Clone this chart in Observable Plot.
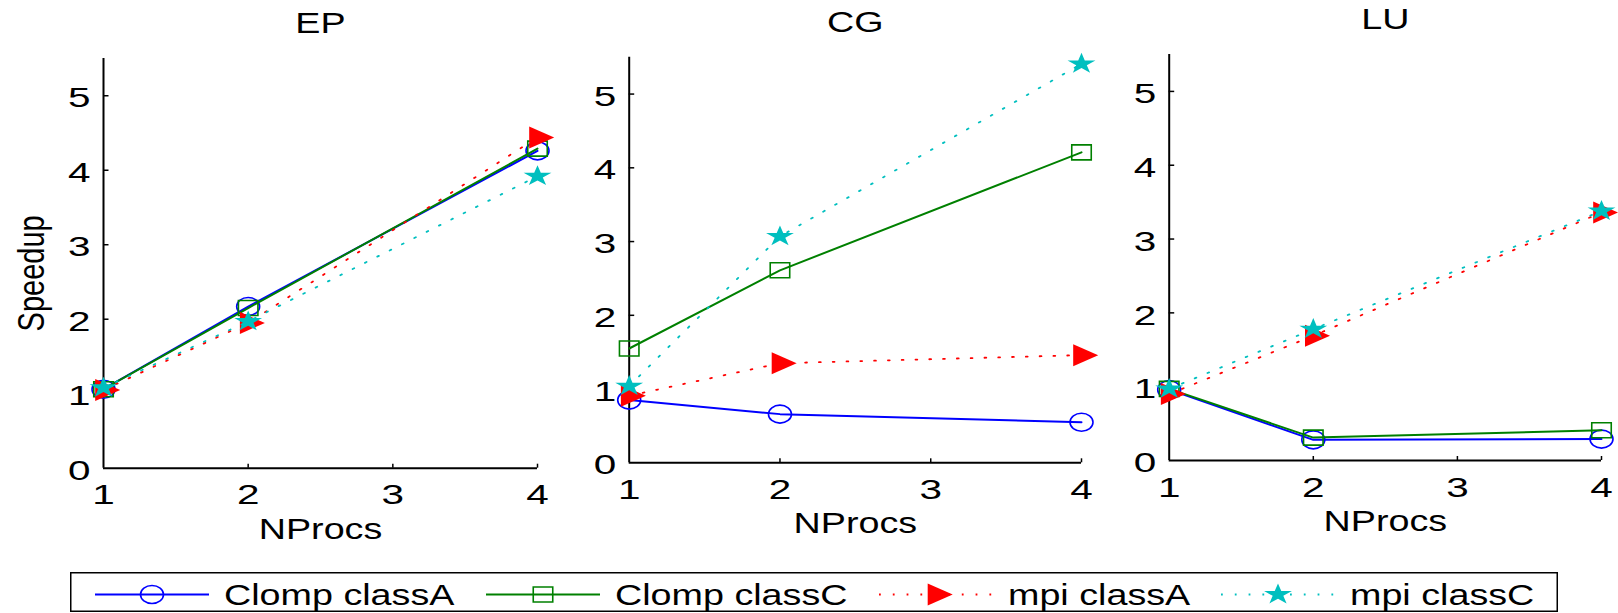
<!DOCTYPE html>
<html><head><meta charset="utf-8">
<script src="https://cdn.jsdelivr.net/npm/d3@7"></script>
<script src="https://cdn.jsdelivr.net/npm/@observablehq/plot@0.6"></script>
<style>
html,body{margin:0;padding:0;background:#fff;}
#fig{position:relative;width:1618px;height:613px;overflow:hidden;font-family:"Liberation Sans",Arial,Helvetica,sans-serif;background:#fff;}
.panel{position:absolute;top:0;}
</style></head><body><div id="fig"></div>
<script>
// ---- data ----
const nprocs = [1, 2, 4];
const xTicks = [1, 2, 3, 4];
const yTicks = [0, 1, 2, 3, 4, 5];
const panelTitles = ["EP", "CG", "LU"];
const xLabel = "NProcs";
const yLabel = "Speedup";
const seriesNames = ["Clomp classA", "Clomp classC", "mpi classA", "mpi classC"];
const seriesColors = ["#0000ff", "#008000", "#ff0000", "#00bfbf"];

const epClompA = [1.06, 2.17, 4.26];
const epClompC = [1.06, 2.15, 4.29];
const epMpiA   = [1.05, 1.95, 4.44];
const epMpiC   = [1.08, 1.97, 3.92];

const cgClompA = [0.85, 0.66, 0.55];
const cgClompC = [1.55, 2.61, 4.21];
const cgMpiA   = [0.91, 1.35, 1.46];
const cgMpiC   = [1.04, 3.07, 5.41];

const luClompA = [0.96, 0.28, 0.29];
const luClompC = [0.97, 0.31, 0.41];
const luMpiA   = [0.90, 1.69, 3.36];
const luMpiC   = [0.97, 1.78, 3.38];

const panelSeries = {
  EP: [epClompA, epClompC, epMpiA, epMpiC],
  CG: [cgClompA, cgClompC, cgMpiA, cgMpiC],
  LU: [luClompA, luClompC, luMpiA, luMpiC]
};

// ---- marker symbols (figure is horizontally stretched, like the original) ----
const ellipseSym = {draw(c) {
  const rx = 11.5, ry = 9, k = 0.5523, kx = rx * k, ky = ry * k;
  c.moveTo(rx, 0);
  c.bezierCurveTo(rx, ky, kx, ry, 0, ry);
  c.bezierCurveTo(-kx, ry, -rx, ky, -rx, 0);
  c.bezierCurveTo(-rx, -ky, -kx, -ry, 0, -ry);
  c.bezierCurveTo(kx, -ry, rx, -ky, rx, 0);
  c.closePath();
}};
const squareSym = {draw(c) { c.rect(-9.75, -7.5, 19.5, 15); }};
const triSym = {draw(c) { c.moveTo(-8.3, -11); c.lineTo(16.7, 0); c.lineTo(-8.3, 11); c.closePath(); }};
const starSym = {draw(c) {
  const R = 11, r = R * 0.382, sx = 1.33;
  for (let i = 0; i < 10; i++) {
    const a = -Math.PI / 2 + i * Math.PI / 5, rr = i % 2 ? r : R;
    const px = sx * rr * Math.cos(a), py = rr * Math.sin(a);
    i ? c.lineTo(px, py) : c.moveTo(px, py);
  }
  c.closePath();
}};
const seriesStyle = [
  {symbol: ellipseSym, fill: "none", solid: true},
  {symbol: squareSym, fill: "none", solid: true},
  {symbol: triSym, fill: "#ff0000", solid: false},
  {symbol: starSym, fill: "#00bfbf", solid: false}
];
const DOTS = "1.8,12";

// ---- layout of the three axes (pixels) ----
const geom = {
  EP: {left: 0, width: 560, mL: 103, mR: 23, mT: 58, mB: 145.3},
  CG: {left: 560, width: 540, mL: 68.7, mR: 19, mT: 56.7, mB: 150.7},
  LU: {left: 1100, width: 518, mL: 68.7, mR: 17, mT: 54, mB: 153}
};
const H = 613;
const FONT = "Liberation Sans, Arial, Helvetica, sans-serif";

function stretchTexts(svg) {
  svg.querySelectorAll("text").forEach(t => {
    const g = t.closest("[aria-label]");
    const lab = g ? g.getAttribute("aria-label") : "";
    const f = /tick label/.test(lab) ? 1.5 : 1.3;
    let tr = t.getAttribute("transform") || "";
    const x = t.getAttribute("x");
    if (x != null && !isNaN(+x)) { tr += ` translate(${+x},0)`; t.removeAttribute("x"); }
    if (tr.includes("rotate(")) tr = tr.replace("rotate(", `scale(${f},1) rotate(`);
    else tr += ` scale(${f},1)`;
    t.setAttribute("transform", tr.trim());
  });
}

const fig = document.getElementById("fig");
const intFmt = d => String(d);
panelTitles.forEach(title => {
  const g = geom[title];
  const fw = g.width - g.mL - g.mR, fh = H - g.mT - g.mB;
  const marks = [
    Plot.ruleY([0], {stroke: "#000", strokeWidth: 2}),
    Plot.ruleX([1], {stroke: "#000", strokeWidth: 2}),
    Plot.tickY(yTicks.filter(t => t > 0), {y: d => d, stroke: "#000", strokeWidth: 1.5, insetRight: fw - 5.5}),
    Plot.tickX(xTicks.filter(t => t > 1), {x: d => d, stroke: "#000", strokeWidth: 1.5, insetTop: fh - 4}),
    Plot.axisX({ticks: xTicks, tickFormat: intFmt, tickSize: 0, tickPadding: 17, fontSize: 27, label: null}),
    Plot.axisY({ticks: yTicks, tickFormat: intFmt, tickSize: 0, tickPadding: 13, fontSize: 27, label: null, dy: 3})
  ];
  panelSeries[title].forEach((vals, s) => {
    const rows = nprocs.map((n, i) => ({n, v: vals[i]}));
    const st = seriesStyle[s];
    marks.push(Plot.line(rows, {x: "n", y: "v", stroke: seriesColors[s], strokeWidth: st.solid ? 2 : 1.8,
      strokeDasharray: st.solid ? null : DOTS}));
    marks.push(Plot.dot(rows, {x: "n", y: "v", symbol: st.symbol,
      stroke: st.fill === "none" ? seriesColors[s] : "none", strokeWidth: 1.6,
      fill: st.fill}));
  });
  marks.push(Plot.text([title], {text: d => d, frameAnchor: "top", textAnchor: "middle", dy: -46, lineAnchor: "top", fontSize: 29}));
  marks.push(Plot.text([xLabel], {text: d => d, frameAnchor: "bottom", textAnchor: "middle", dy: 50, lineAnchor: "top", fontSize: 29}));
  if (title === "EP") marks.push(Plot.text([yLabel], {text: d => d, frameAnchor: "left", textAnchor: "middle", lineAnchor: "middle", rotate: -90, dx: -72, dy: 10, fontSize: 29}));

  const svg = Plot.plot({
    width: g.width, height: H,
    marginLeft: g.mL, marginRight: g.mR, marginTop: g.mT, marginBottom: g.mB,
    x: {type: "linear", domain: [1, 4]},
    y: {type: "linear", domain: [0, 5.5]},
    style: {fontFamily: FONT, background: "transparent", overflow: "visible", color: "#000"},
    marks
  });
  stretchTexts(svg);
  svg.classList.add("panel");
  svg.style.left = g.left + "px";
  svg.style.position = "absolute";
  svg.style.top = "0px";
  fig.appendChild(svg);
});

// ---- legend ----
const LW = 1488, LH = 40, LTOP = 572;
const leg = d3.select(fig).append("svg").attr("id", "legend")
  .attr("width", LW).attr("height", LH).style("position", "absolute")
  .style("left", "70px").style("top", LTOP + "px").style("overflow", "visible");
leg.append("rect").attr("x", 0.75).attr("y", 0.75).attr("width", LW - 1.5).attr("height", LH - 1.5)
  .attr("fill", "#fff").attr("stroke", "#000").attr("stroke-width", 1.5);
const itemX = [25, 416, 809, 1151];
const cy = 22.5;
seriesNames.forEach((name, s) => {
  const x0 = itemX[s], st = seriesStyle[s];
  leg.append("line").attr("x1", x0).attr("x2", x0 + 114).attr("y1", cy).attr("y2", cy)
    .attr("stroke", seriesColors[s]).attr("stroke-width", st.solid ? 2 : 1.8)
    .attr("stroke-dasharray", st.solid ? null : DOTS);
  const p = d3.path(); st.symbol.draw(p);
  leg.append("path").attr("d", p.toString()).attr("transform", `translate(${x0 + 57},${cy})`)
    .attr("fill", st.fill).attr("stroke", st.fill === "none" ? seriesColors[s] : "none").attr("stroke-width", 1.6);
  leg.append("text").text(name).attr("transform", `translate(${x0 + 129},${cy + 10.3}) scale(1.3,1)`)
    .attr("font-size", 29).attr("font-family", FONT).attr("fill", "#000");
});
</script></body></html>
